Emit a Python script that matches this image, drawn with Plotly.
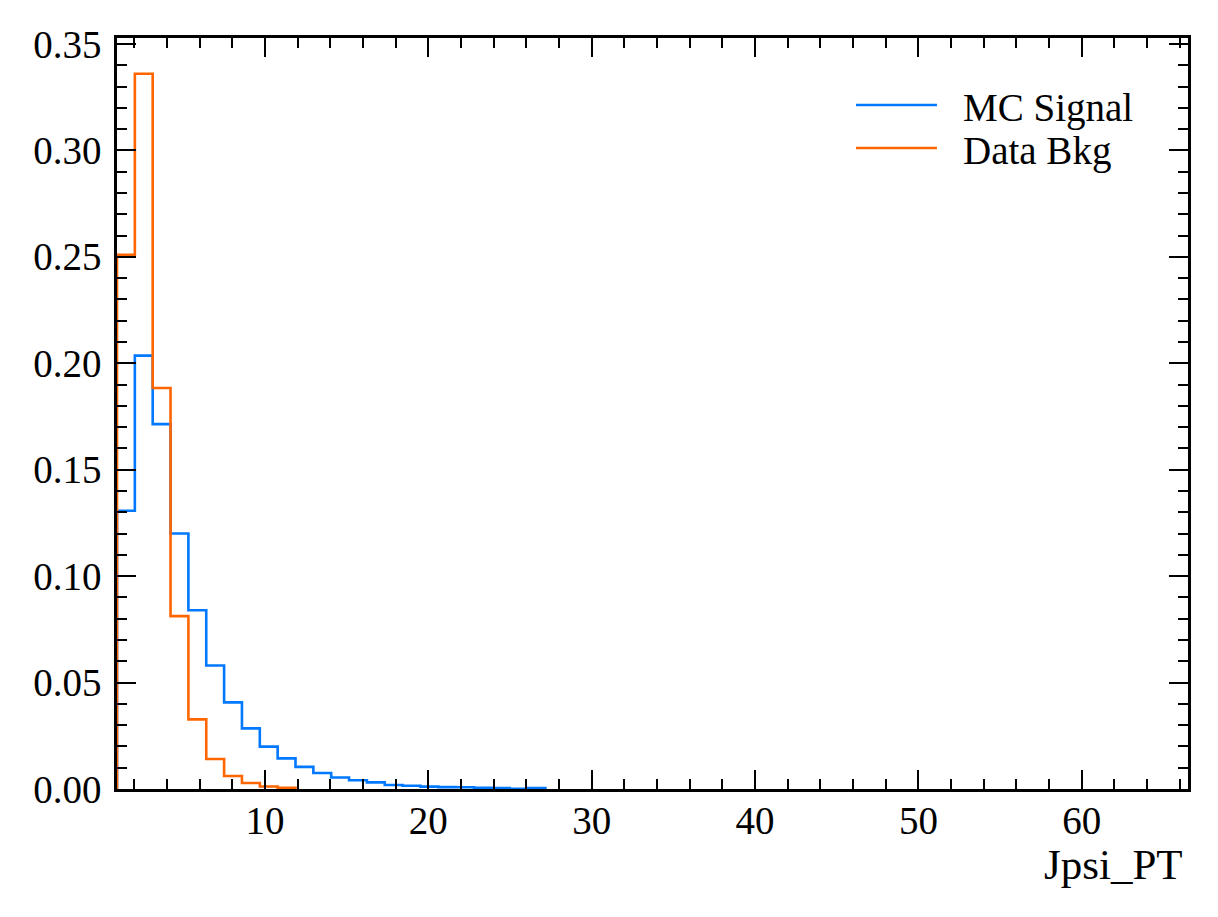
import numpy as np
import plotly.graph_objects as go

# Histogram binning (60 bins over the Jpsi_PT range)
x_min = 0.94
x_max = 66.5
n_bins = 60

# Normalised bin contents (later bins are empty)
mc_signal = [0.1307, 0.2036, 0.1714, 0.1200, 0.0840, 0.0580, 0.0407, 0.0285,
             0.0199, 0.0144, 0.0104, 0.0075, 0.0054, 0.0041, 0.0031, 0.0019,
             0.0015, 0.0011, 0.0009, 0.0008, 0.0006, 0.0005, 0.0001, 0.0004]
data_bkg = [0.2510, 0.3360, 0.1884, 0.0812, 0.0327, 0.0141, 0.0061, 0.0028,
            0.0012, 0.0006]

series_names = ["MC Signal", "Data Bkg"]
series_colors = ["#0078FF", "#FF6600"]
y_ticks = [0.00, 0.05, 0.10, 0.15, 0.20, 0.25, 0.30, 0.35]
x_ticks = [10, 20, 30, 40, 50, 60]
x_title = "Jpsi_PT"

edges = np.linspace(x_min, x_max, n_bins + 1)


def step_xy(vals):
    # outline of a 'step' histogram; empty trailing bins lie on the axis
    n = len(vals)
    xs = [edges[0]] + list(edges[:n + 1])
    ys = [0.0] + list(vals) + [0.0]
    return xs, ys


fig = go.Figure()
FONT = "Liberation Serif, Times New Roman, serif"
LW = 2.6

for vals, name, col in zip([mc_signal, data_bkg], series_names, series_colors):
    xs, ys = step_xy(vals)
    fig.add_trace(go.Scatter(x=xs, y=ys, mode="lines", name=name,
                             line=dict(color=col, width=LW, shape="hv"),
                             showlegend=False, hoverinfo="skip"))

ymax = max(max(mc_signal), max(data_bkg)) * 1.05

axis_common = dict(
    showline=True, linecolor="black", linewidth=2.6, mirror="allticks",
    ticks="inside", ticklen=19, tickwidth=2.4, tickcolor="black",
    showgrid=False, zeroline=False, layer="above traces",
    tickfont=dict(family=FONT, size=39, color="black"),
)

fig.update_xaxes(range=[x_min, x_max], tickvals=x_ticks,
                 ticklabelstandoff=-5,
                 minor=dict(ticks="inside", ticklen=10, tickwidth=2.2,
                            tickcolor="black", dtick=2, tick0=0, showgrid=False),
                 **axis_common)
fig.update_yaxes(range=[0, ymax], tickvals=y_ticks, tickformat=".2f",
                 ticklabelstandoff=5,
                 minor=dict(ticks="inside", ticklen=10, tickwidth=2.2,
                            tickcolor="black", dtick=0.01, tick0=0, showgrid=False),
                 **axis_common)

# manual legend (long line samples like matplotlib)
leg_y = [0.9108, 0.8535]
for name, col, yy in zip(series_names, series_colors, leg_y):
    fig.add_shape(type="line", xref="paper", yref="paper",
                  x0=0.690, x1=0.7656, y0=yy, y1=yy,
                  line=dict(color=col, width=LW))
    fig.add_annotation(xref="paper", yref="paper", x=0.7885, y=yy - 0.004,
                       xanchor="left", yanchor="middle", text=name,
                       showarrow=False,
                       font=dict(family=FONT, size=39, color="black"))

fig.add_annotation(xref="paper", yref="paper", x=1.0, y=-0.101,
                   xanchor="right", yanchor="middle", text=x_title,
                   showarrow=False, xshift=-3,
                   font=dict(family=FONT, size=43, color="black"))

# page body has an 8px margin, so the figure is shifted by 8px
fig.update_layout(
    width=1210, height=909,
    margin=dict(l=109, r=30, t=30, b=128),
    paper_bgcolor="white", plot_bgcolor="white",
    showlegend=False,
    font=dict(family=FONT, color="black"),
)

fig.write_html("out.html")
